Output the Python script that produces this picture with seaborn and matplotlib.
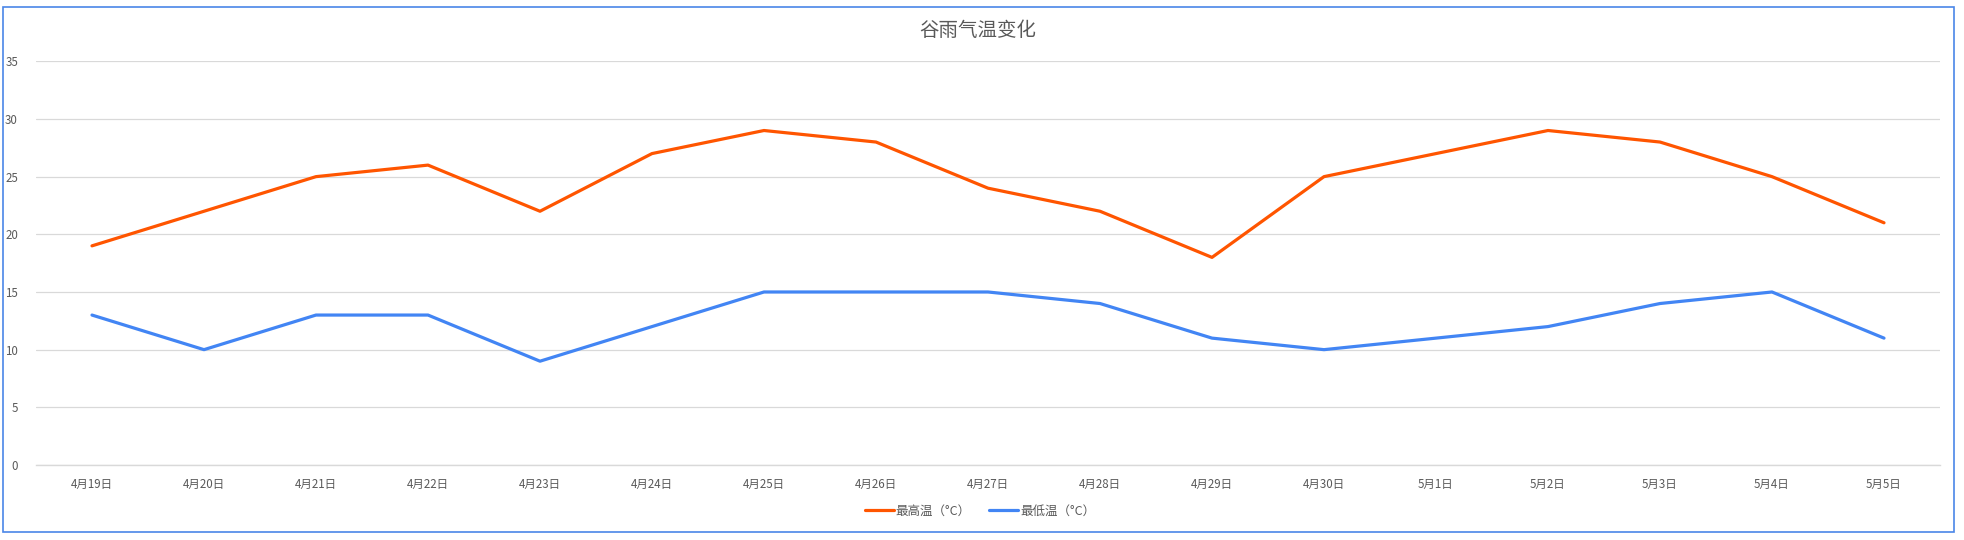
import pandas as pd
import numpy as np
import matplotlib.pyplot as plt
import seaborn as sns
from matplotlib.patches import Rectangle
from matplotlib.lines import Line2D

# --- 数据 ---
dates = ["4月19日", "4月20日", "4月21日", "4月22日", "4月23日", "4月24日",
         "4月25日", "4月26日", "4月27日", "4月28日", "4月29日", "4月30日",
         "5月1日", "5月2日", "5月3日", "5月4日", "5月5日"]
high_temp = [19, 22, 25, 26, 22, 27, 29, 28, 24, 22, 18, 25, 27, 29, 28, 25, 21]
low_temp = [13, 10, 13, 13, 9, 12, 15, 15, 15, 14, 11, 10, 11, 12, 14, 15, 11]
series_names = ["最高温（°C）", "最低温（°C）"]
y_ticks = [0, 5, 10, 15, 20, 25, 30, 35]

sns.set_style("white")
plt.rcParams['font.family'] = ['Noto Sans CJK SC', 'DejaVu Sans']

df = pd.DataFrame({
    "日期": dates * 2,
    "温度": high_temp + low_temp,
    "系列": [series_names[0]] * len(dates) + [series_names[1]] * len(dates),
})
df["x"] = list(range(len(dates))) * 2

fig = plt.figure(figsize=(19.64, 5.4), dpi=100)
ax = fig.add_axes([36 / 1964, 1 - 465 / 540, (1940 - 36) / 1964, (465 - 61.3) / 540])

palette = {series_names[0]: "#FF5500", series_names[1]: "#4285F4"}
sns.lineplot(data=df, x="x", y="温度", hue="系列", palette=palette,
             linewidth=2.3, ax=ax, legend=False, sort=False)

text_color = "#595959"
ax.set_xlim(-0.5, len(dates) - 0.5)
ax.set_ylim(0, 35)
ax.set_yticks(y_ticks)
ax.set_xticks(range(len(dates)))
ax.set_xticklabels(dates)
ax.set_xticks(np.arange(-0.5, len(dates), 1.0), minor=True)
ax.tick_params(axis='x', which='major', length=0, pad=9, labelsize=8.3, labelcolor=text_color)
ax.tick_params(axis='x', which='minor', length=4, width=0.8, color="#d9d9d9", direction='out')
ax.tick_params(axis='y', length=0, pad=13, labelsize=8.3, labelcolor=text_color)
ax.set_xlabel("")
ax.set_ylabel("")
ax.grid(axis='y', color="#d9d9d9", linewidth=0.9)
ax.set_axisbelow(True)
for side in ["top", "right", "left"]:
    ax.spines[side].set_visible(False)
ax.spines["bottom"].set_color("#d9d9d9")
ax.spines["bottom"].set_linewidth(1.0)

fig.text(978 / 1964, 1 - 31 / 540, "谷雨气温变化", ha='center', va='center',
         fontsize=14, color=text_color)

handles = [Line2D([0], [0], color=palette[n], linewidth=2.3) for n in series_names]
fig.legend(handles, series_names, loc='center', bbox_to_anchor=(980 / 1964, 1 - 511 / 540),
           ncol=2, frameon=False, fontsize=9, labelcolor=text_color,
           handlelength=2.3, handletextpad=0.15, columnspacing=1.5)

# 图表边框（蓝色）
fig.patches.append(Rectangle((3 / 1964, 1 - 532 / 540), (1954 - 3) / 1964, (532 - 7) / 540,
                             transform=fig.transFigure, fill=False,
                             edgecolor="#4a86e8", linewidth=1.2))

fig.savefig("out.png", dpi=100)
